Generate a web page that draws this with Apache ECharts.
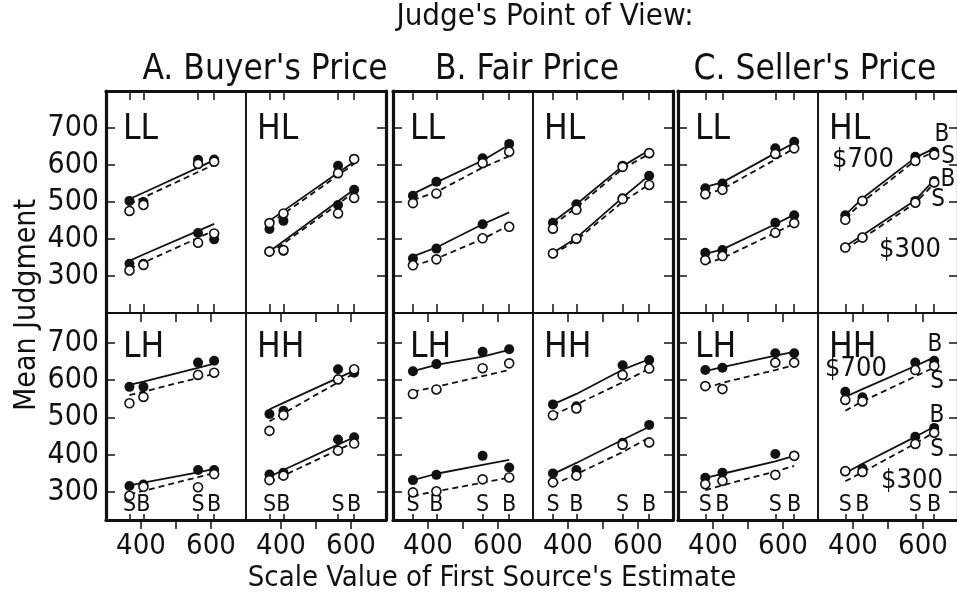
<!DOCTYPE html>
<html>
<head>
<meta charset="utf-8">
<script src="https://cdn.jsdelivr.net/npm/echarts@6/dist/echarts.min.js"></script>
<style>html,body{margin:0;padding:0;background:#fff}#c{width:957px;height:597px}</style>
</head>
<body>
<div id="c"></div>
<script>
// ---- x positions (scale value of first source's estimate) for S,B,S,B in each judge group
const xA = [367, 407, 563, 609];
const xB = [357, 424, 556, 632];
const xC = [378, 427, 578, 632];
const sbLabels = ['S', 'B', 'S', 'B'];
const yTickValues = [300, 400, 500, 600, 700];
const xTickValues = [400, 500, 600];
const xLabelValues = [400, 600];

// observed: [filled $700, open $700, filled $300, open $300]
// fitted:   [solid $700, dashed $700, solid $300, dashed $300]
const A_LL_obs = [[503, 500, 614, 615], [476, 492, 603, 609], [333, 333, 416, 399], [315, 330, 390, 415]];
const A_LL_fit = [[508, 525, 593, 613], [494, 512, 581, 601], [341, 358, 422, 441], [319, 336, 403, 423]];
const A_HL_obs = [[427, 449, 598, 616], [443, 469, 578, 616], [366, 368, 492, 533], [366, 370, 469, 511]];
const A_HL_fit = [[449, 476, 579, 609], [441, 468, 572, 603], [366, 394, 502, 534], [360, 388, 494, 527]];
const A_LH_obs = [[582, 582, 647, 652], [538, 555, 614, 620], [316, 320, 359, 359], [290, 314, 313, 348]];
const A_LH_fit = [[587, 596, 633, 644], [560, 569, 606, 617], [318, 325, 353, 362], [294, 303, 340, 351]];
const A_HH_obs = [[509, 518, 629, 620], [464, 506, 602, 629], [347, 352, 441, 447], [332, 344, 411, 430]];
const A_HH_fit = [[522, 539, 606, 625], [490, 511, 594, 618], [341, 359, 427, 447], [326, 344, 413, 433]];

const B_LL_obs = [[517, 555, 618, 657], [497, 523, 605, 636], [347, 374, 440, 433], [329, 345, 402, 433]];
const B_LL_fit = [[522, 553, 612, 655], [505, 527, 593, 624], [353, 377, 440, 472], [327, 347, 400, 437]];
const B_HL_obs = [[444, 494, 598, 632], [428, 479, 595, 632], [361, 401, 510, 571], [361, 401, 508, 546]];
const B_HL_fit = [[446, 494, 597, 640], [438, 485, 590, 630], [363, 403, 512, 572], [358, 397, 500, 548]];
const B_LH_obs = [[624, 643, 676, 683], [563, 575, 632, 645], [332, 346, 397, 366], [299, 302, 334, 339]];
const B_LH_fit = [[624, 641, 663, 681], [569, 582, 611, 627], [332, 349, 373, 386], [290, 302, 325, 339]];
const B_HH_obs = [[535, 530, 640, 654], [506, 524, 614, 631], [350, 359, 432, 480], [326, 344, 427, 433]];
const B_HH_fit = [[535, 563, 628, 656], [506, 535, 594, 631], [348, 378, 440, 475], [319, 348, 407, 446]];

const C_LL_obs = [[537, 550, 645, 663], [521, 533, 630, 645], [363, 370, 444, 464], [343, 354, 417, 443]];
const C_LL_fit = [[541, 553, 632, 660], [521, 535, 615, 645], [360, 372, 440, 466], [333, 348, 417, 442]];
const C_HL_obs = [[464, 503, 622, 636], [452, 503, 611, 628], [377, 404, 503, 557], [377, 404, 498, 553]];
const C_HL_fit = [[465, 510, 620, 645], [455, 500, 612, 636], [380, 410, 505, 560], [372, 402, 497, 550]];
const C_LH_obs = [[627, 633, 672, 672], [584, 576, 647, 647], [338, 352, 402, 397], [321, 330, 346, 397]];
const C_LH_fit = [[624, 635, 666, 676], [578, 593, 627, 640], [338, 349, 382, 397], [305, 318, 355, 370]];
const C_HH_obs = [[569, 554, 647, 652], [547, 543, 627, 638], [356, 363, 448, 472], [356, 354, 429, 459]];
const C_HH_fit = [[555, 576, 638, 661], [518, 543, 610, 634], [351, 376, 448, 475], [329, 353, 430, 460]];

const groupTitles = ["A. Buyer's Price", "B. Fair Price", "C. Seller's Price"];
const panelNames = [['LL', 'HL'], ['LH', 'HH']];

// ---- layout
const FONT = "'Liberation Sans Narrow','DejaVu Sans Condensed','Liberation Sans',sans-serif";
const INK = '#111';
const groupLeft = [106, 393, 678];
const panelW = 140;
const rowTop = [91, 313];
const rowH = [222, 207];
const yRange = [[200, 800], [225, 780]];
const xsByGroup = [xA, xB, xC];
const panels = [
  [[A_LL_obs, A_LL_fit], [A_HL_obs, A_HL_fit], [A_LH_obs, A_LH_fit], [A_HH_obs, A_HH_fit]],
  [[B_LL_obs, B_LL_fit], [B_HL_obs, B_HL_fit], [B_LH_obs, B_LH_fit], [B_HH_obs, B_HH_fit]],
  [[C_LL_obs, C_LL_fit], [C_HL_obs, C_HL_fit], [C_LH_obs, C_LH_fit], [C_HH_obs, C_HH_fit]]
];

const grids = [], xAxes = [], yAxes = [], series = [], graphics = [];
const thick = 3.2, thin = 1.6;

for (let g = 0; g < 3; g++) {
  const xs = xsByGroup[g];
  for (let r = 0; r < 2; r++) {
    for (let c = 0; c < 2; c++) {
      const gi = grids.length;
      const left = groupLeft[g] + c * panelW;
      grids.push({
        left: left, top: rowTop[r], width: panelW, height: rowH[r],
        show: true, borderColor: INK, borderWidth: thin, backgroundColor: 'transparent',
        containLabel: false, outerBoundsMode: 'none'
      });
      const baseX = {
        gridIndex: gi, type: 'value', min: 300, max: 700,
        splitLine: { show: false }, axisLabel: { show: false }
      };
      const firstX = xAxes.length;
      if (r === 0) {
        xAxes.push(Object.assign({}, baseX, {
          position: 'top',
          axisLine: { show: true, lineStyle: { color: INK, width: thick } },
          axisTick: { show: true, inside: true, length: 9, customValues: xs, lineStyle: { color: INK, width: 1.5 } }
        }));
        xAxes.push(Object.assign({}, baseX, {
          position: 'bottom',
          axisLine: { show: true, lineStyle: { color: INK, width: thin } },
          axisTick: { show: true, inside: true, length: 9, customValues: xs, lineStyle: { color: INK, width: 1.5 } }
        }));
      } else {
        xAxes.push(Object.assign({}, baseX, {
          position: 'top',
          axisLine: { show: true, lineStyle: { color: INK, width: thin } },
          axisTick: { show: true, inside: true, length: 9, customValues: xTickValues, lineStyle: { color: INK, width: 1.5 } }
        }));
        xAxes.push(Object.assign({}, baseX, {
          position: 'bottom',
          axisLine: { show: true, lineStyle: { color: INK, width: thick } },
          axisTick: { show: true, inside: true, length: 6, customValues: xs, lineStyle: { color: INK, width: 1.5 } },
          axisLabel: {
            show: true, inside: true, margin: 3, customValues: xs,
            formatter: function (v) { return sbLabels[xs.indexOf(v)] || ''; },
            fontFamily: FONT, fontSize: 23, color: INK
          }
        }));
        xAxes.push(Object.assign({}, baseX, {
          position: 'bottom',
          axisLine: { show: false },
          axisTick: { show: true, inside: false, length: 9, customValues: xTickValues, lineStyle: { color: INK, width: 1.5 } },
          axisLabel: {
            show: true, margin: 12, customValues: xLabelValues,
            fontFamily: FONT, fontSize: 29, color: INK
          }
        }));
      }
      yAxes.push({
        gridIndex: gi, type: 'value', min: yRange[r][0], max: yRange[r][1],
        position: c === 0 ? 'left' : 'right',
        splitLine: { show: false },
        axisLine: { show: true, lineStyle: { color: INK, width: thick } },
        axisTick: { show: true, inside: true, length: 9, customValues: yTickValues, lineStyle: { color: INK, width: 1.5 } },
        axisLabel: {
          show: g === 0 && c === 0, customValues: yTickValues, margin: 7,
          fontFamily: FONT, fontSize: 30, color: INK
        }
      });
      const yi = yAxes.length - 1;
      const [obs, fit] = panels[g][r * 2 + c];
      // fitted lines
      fit.forEach(function (vals, k) {
        series.push({
          type: 'line', xAxisIndex: firstX, yAxisIndex: yi, symbol: 'none', silent: true,
          lineStyle: { color: INK, width: 1.8, opacity: 1, type: (k % 2 === 0) ? 'solid' : [6, 4] },
          data: xs.map(function (x, i) { return [x, vals[i]]; }), z: 3
        });
      });
      // observed points: filled then open
      obs.forEach(function (vals, k) {
        const filled = (k % 2 === 0);
        series.push({
          type: 'scatter', xAxisIndex: firstX, yAxisIndex: yi, silent: true,
          symbol: 'circle', symbolSize: filled ? 10 : 9,
          itemStyle: filled ? { color: INK, opacity: 1 } : { color: '#fff', borderColor: INK, borderWidth: 1.6, opacity: 1 },
          data: xs.map(function (x, i) { return [x, vals[i]]; }), z: filled ? 4 : 5
        });
      });
      // panel name
      graphics.push({
        type: 'text', x: left + (c === 0 ? 17 : 11), y: rowTop[r] + (r === 0 ? 21 : 17),
        style: { text: panelNames[r][c], fontFamily: FONT, fontSize: 35, fill: INK }
      });
    }
  }
}

function txt(text, x, y, size, extra) {
  return Object.assign({
    type: 'text', x: x, y: y,
    style: {
      text: text, fontFamily: FONT, fontSize: size, fill: INK,
      align: 'center', verticalAlign: 'middle', textAlign: 'center', textVerticalAlign: 'middle'
    }
  }, extra || {});
}
graphics.push(txt("Judge's Point of View:", 545, 17, 31));
graphics.push(txt(groupTitles[0], 265, 70, 35));
graphics.push(txt(groupTitles[1], 527, 70, 35));
graphics.push(txt(groupTitles[2], 815, 70, 35));
graphics.push(txt('Mean Judgment', 27, 305, 30, { rotation: Math.PI / 2 }));
graphics.push(txt("Scale Value of First Source's Estimate", 492, 578, 29));
// C panel annotations
graphics.push(txt('B', 942, 135, 24));
graphics.push(txt('S', 948, 157, 24));
graphics.push(txt('B', 948, 180, 24));
graphics.push(txt('S', 938, 200, 24));
graphics.push(txt('$700', 863, 160, 27));
graphics.push(txt('$300', 910, 250, 27));
graphics.push(txt('B', 935, 345, 24));
graphics.push(txt('S', 937, 382, 24));
graphics.push(txt('B', 937, 416, 24));
graphics.push(txt('S', 937, 450, 24));
graphics.push(txt('$700', 856, 369, 27));
graphics.push(txt('$300', 912, 481, 27));

const chart = echarts.init(document.getElementById('c'), null, { renderer: 'canvas' });
chart.setOption({
  backgroundColor: '#fff',
  animation: false,
  grid: grids,
  xAxis: xAxes,
  yAxis: yAxes,
  series: series,
  graphic: graphics
});
</script>
</body>
</html>
